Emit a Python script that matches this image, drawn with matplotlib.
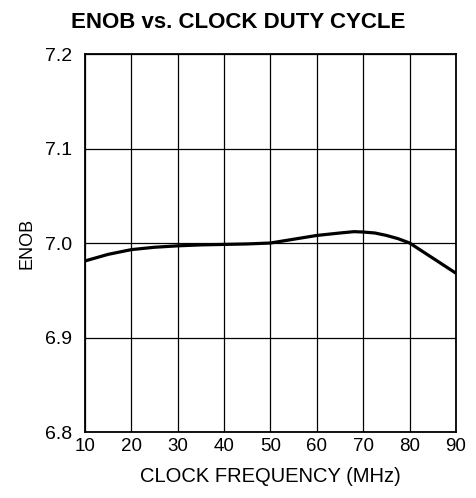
import matplotlib.pyplot as plt

plt.rcParams['font.family'] = ['Liberation Sans', 'DejaVu Sans']

# values
freq = [10, 15, 20, 25, 30, 35, 40, 45, 50, 55, 60, 65, 68, 70, 72.5, 75, 77.5, 80, 85, 90]
enob = [6.981, 6.988, 6.993, 6.9955, 6.997, 6.998, 6.9985, 6.999, 7.000,
        7.004, 7.008, 7.0106, 7.012, 7.0116, 7.0106, 7.008, 7.0046, 7.000,
        6.984, 6.968]

xticks = [10, 20, 30, 40, 50, 60, 70, 80, 90]
yticks = [6.8, 6.9, 7.0, 7.1, 7.2]

fig = plt.figure(figsize=(4.77, 4.98), dpi=100)
ax = fig.add_axes([85 / 477, 1 - 432 / 498, 371 / 477, 378 / 498])

ax.plot(freq, enob, color='black', lw=2.3, solid_capstyle='butt')

ax.set_xlim(10, 90)
ax.set_ylim(6.8, 7.2)
ax.set_xticks(xticks)
ax.set_yticks(yticks)
ax.set_yticklabels(['%.1f' % v for v in yticks])
ax.grid(True, color='black', lw=0.9)
ax.tick_params(length=0)
ax.tick_params(axis='x', labelsize=13.5, pad=4)
ax.tick_params(axis='y', labelsize=14, pad=9)
for s in ax.spines.values():
    s.set_linewidth(1.3)

ax.set_xlabel('CLOCK FREQUENCY (MHz)', fontsize=14.5, labelpad=9)
ax.set_ylabel('ENOB', fontsize=13, labelpad=7)
fig.text(0.5, 1 - 22 / 498, 'ENOB vs. CLOCK DUTY CYCLE', ha='center', va='center',
         fontsize=16, fontweight='bold')

fig.savefig('out.png', dpi=100)
